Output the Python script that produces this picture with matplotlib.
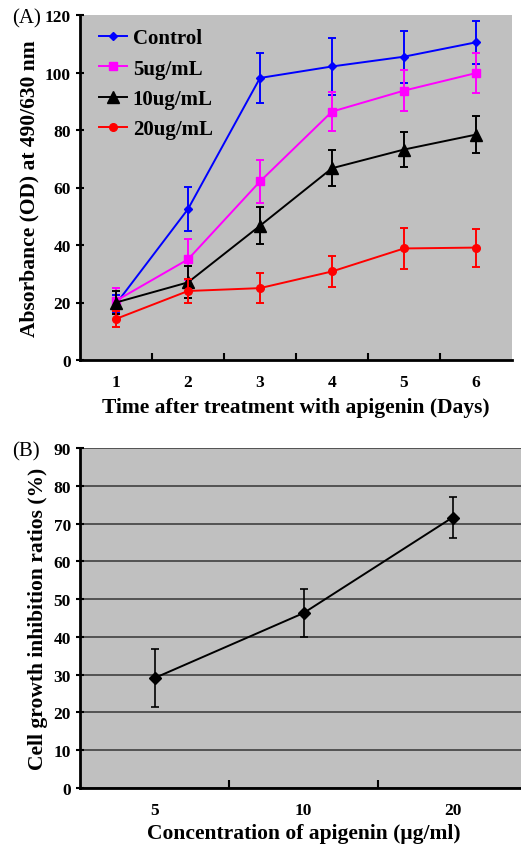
import matplotlib
matplotlib.use("Agg")
import matplotlib.pyplot as plt
from matplotlib.ticker import FixedLocator

plt.rcParams['font.family'] = ['Liberation Serif', 'DejaVu Serif']
plt.rcParams['font.weight'] = 'bold'

# ---------------- Data ----------------
days = [1, 2, 3, 4, 5, 6]
day_labels = ['1', '2', '3', '4', '5', '6']
series_names = ['Control', '5ug/mL', '10ug/mL', '20ug/mL']
control = [19.5, 52.5, 98.1, 102.1, 105.5, 110.5]
control_err = [3.0, 7.7, 8.7, 10.0, 9.0, 7.5]
ug5 = [20.6, 35.0, 62.1, 86.4, 93.7, 99.8]
ug5_err = [4.5, 7.0, 7.5, 6.7, 7.2, 7.0]
ug10 = [20.0, 27.0, 46.7, 66.7, 73.2, 78.4]
ug10_err = [4.0, 5.6, 6.4, 6.2, 6.0, 6.3]
ug20 = [14.3, 24.0, 25.0, 30.8, 38.8, 39.1]
ug20_err = [2.8, 4.2, 5.3, 5.5, 7.2, 6.6]

conc_labels = ['5', '10', '20']
inhibition = [29.1, 46.3, 71.6]
inhibition_err = [7.6, 6.4, 5.4]

W, H = 521, 845
fig = plt.figure(figsize=(W / 100, H / 100), dpi=100)
bg = '#c0c0c0'
LABEL_FS = 15.5

def box(l, t, r, b):
    return [l / W, 1 - b / H, (r - l) / W, (b - t) / H]

# ---------------- Panel A ----------------
ax = fig.add_axes(box(80, 16, 512, 361))
ax.set_facecolor(bg)
styles = [
    (control, control_err, '#0000ff', 'D', 4.5),
    (ug5, ug5_err, '#ff00ff', 's', 6),
    (ug10, ug10_err, '#000000', '^', 8),
    (ug20, ug20_err, '#ff0000', 'o', 5.5),
]
for name, (vals, errs, c, m, ms) in zip(series_names, styles):
    ax.errorbar(days, vals, yerr=errs, color=c, fmt='none',
                elinewidth=1.4, capsize=3, capthick=1.4)
    ax.plot(days, vals, color=c, marker=m, ms=ms, lw=1.4, label=name)
ax.set_xlim(0.5, 6.5)
ax.set_ylim(0, 120)
ax.set_yticks(range(0, 121, 20))
ax.set_xticks(days)
ax.set_xticklabels(day_labels)
ax.xaxis.set_minor_locator(FixedLocator([1.5, 2.5, 3.5, 4.5, 5.5]))
ax.tick_params(axis='x', which='major', length=0, labelsize=12.5, pad=10)
ax.tick_params(axis='x', which='minor', direction='in', length=5, width=1.5)
ax.tick_params(axis='y', direction='inout', length=6, width=1.5, labelsize=12.5, pad=3.5)
for s in ['top', 'right']:
    ax.spines[s].set_visible(False)
for s in ['left', 'bottom']:
    ax.spines[s].set_linewidth(2)
ax.set_ylabel('Absorbance (OD) at 490/630 nm', fontsize=LABEL_FS, fontweight='bold', labelpad=4)
ax.set_xlabel('Time after treatment with apigenin (Days)', fontsize=LABEL_FS, fontweight='bold', labelpad=5)
leg = ax.legend(loc='upper left', frameon=False, fontsize=15, handlelength=1.3,
                borderaxespad=0, borderpad=0, labelspacing=0.5, handletextpad=0.3,
                bbox_to_anchor=(0.045, 0.962))
fig.text(12 / W, 1 - 19 / H, '(A)', fontsize=15, fontweight='normal', va='center', ha='left')

# ---------------- Panel B ----------------
bx = fig.add_axes(box(80, 449, 527, 789))
bx.set_facecolor(bg)
xpos = [1, 2, 3]
bx.errorbar(xpos, inhibition, yerr=inhibition_err, color='black', marker='D', ms=6,
            lw=1.4, elinewidth=1.2, capsize=3, capthick=1.2, zorder=3)
bx.set_xlim(0.5, 3.5)
bx.set_ylim(0, 90)
bx.set_yticks(range(0, 91, 10))
bx.yaxis.grid(True, color='#404040', lw=1.2)
bx.set_axisbelow(True)
bx.set_xticks(xpos)
bx.set_xticklabels(conc_labels)
bx.xaxis.set_minor_locator(FixedLocator([1.5, 2.5]))
bx.tick_params(axis='x', which='major', length=0, labelsize=12.5, pad=10)
bx.tick_params(axis='x', which='minor', direction='in', length=6, width=1.5)
bx.tick_params(axis='y', direction='inout', length=6, width=1.5, labelsize=12.5, pad=3.5)
for s in ['top', 'right']:
    bx.spines[s].set_visible(False)
for s in ['left', 'bottom']:
    bx.spines[s].set_linewidth(2)
bx.set_ylabel('Cell growth inhibition ratios (%)', fontsize=LABEL_FS, fontweight='bold', labelpad=4)
bx.set_xlabel('Concentration of apigenin (μg/ml)', fontsize=LABEL_FS, fontweight='bold', labelpad=4)
fig.text(12 / W, 1 - 452 / H, '(B)', fontsize=15, fontweight='normal', va='center', ha='left')

fig.savefig('out.png', dpi=100)
